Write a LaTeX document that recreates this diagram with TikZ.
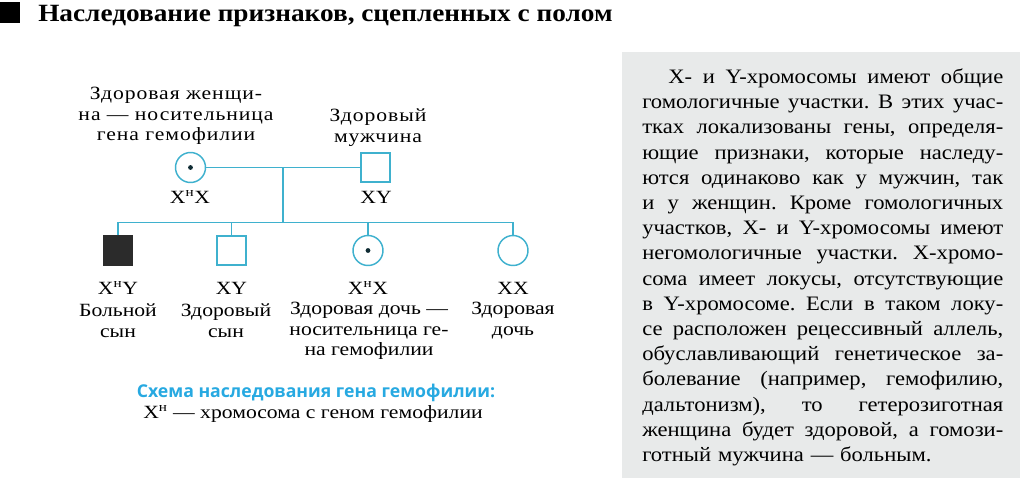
\documentclass[tikz,border=0pt]{standalone}
\usepackage{fontspec}
\setmainfont{Liberation Serif}[FakeStretch=1.1]
\newfontfamily\pedfont{Liberation Serif}[FakeStretch=1.16]
\newfontfamily\pedwide{Liberation Serif}[FakeStretch=1.16,LetterSpace=5]
\newfontfamily\capfont{Open Sans}
\usepackage{xcolor}
\definecolor{PedBlue}{HTML}{3FB1CE}
\definecolor{CapBlue}{HTML}{27A9E1}
\definecolor{BoxGray}{HTML}{E8EAEA}
\definecolor{Sick}{HTML}{2B2B2B}
\usepackage{tikz}
\usetikzlibrary{positioning,calc}
\newcommand\fullline[1]{\hbox to 270.75pt{\frenchspacing\spaceskip=\fontdimen2\font plus 1fil minus 0.1em\relax #1}}

\begin{document}
\begin{tikzpicture}[x=0.75pt,y=-0.75pt,
 male/.style={rectangle,draw=PedBlue,line width=1.1pt,minimum size=21.5pt,inner sep=0pt},
 female/.style={circle,draw=PedBlue,line width=1.1pt,minimum size=22.5pt,inner sep=0pt},
 sick/.style={male,draw=Sick,fill=Sick},
 carrier/.style={female,path picture={\fill[black!75!PedBlue] (path picture bounding box.center) circle (1.8pt);}},
 ped/.style={PedBlue,line width=1.1pt},
 lbl/.style={align=center,font=\pedfont\fontsize{14}{15.4}\selectfont,inner sep=0pt},
 toplbl/.style={lbl,font=\pedwide\fontsize{14}{15.4}\selectfont}]
\useasboundingbox (0,0) rectangle (1024,480);
\fill (0,2) rectangle (20,23);
\node[anchor=base west,inner sep=0pt,font=\bfseries\fontsize{18.6}{20}\selectfont] (title) at (38,21) {Наследование признаков, сцепленных с полом};
\fill[BoxGray] (622,52) rectangle (1020,478);
\node[anchor=north west,inner sep=0pt,text width=270.75pt,font=\fontsize{15.4}{18.9}\selectfont] (info) at (642,68.5) {%
\fullline{\hspace*{19.5pt}X- и Y-хромосомы имеют общие}
\fullline{гомологичные участки. В этих учас-}
\fullline{тках локализованы гены, определя-}
\fullline{ющие признаки, которые наследу-}
\fullline{ются одинаково как у мужчин, так}
\fullline{и у женщин. Кроме гомологичных}
\fullline{участков, X- и Y-хромосомы имеют}
\fullline{негомологичные участки. X-хромо-}
\fullline{сома имеет локусы, отсутствующие}
\fullline{в Y-хромосоме. Если в таком локу-}
\fullline{се расположен рецессивный аллель,}
\fullline{обуславливающий генетическое за-}
\fullline{болевание (например, гемофилию,}
\fullline{дальтонизм), то гетерозиготная}
\fullline{женщина будет здоровой, а гомози-}
\hbox{готный мужчина — больным.}};
\node[carrier] (mom) at (190.5,167.5) {};
\node[male] (dad) at (375.5,167.5) {};
\draw[ped] (mom) -- (dad);
\coordinate (mate) at (283,167.5);
\coordinate (sib) at (283,222.5);
\draw[ped] (mate) -- (sib);
\node[toplbl] (momtxt) at (176,116) {Здоровая женщи-\\на — носительница\\гена гемофилии};
\node[toplbl] (dadtxt) at (378,127.5) {Здоровый\\мужчина};
\node[lbl] (momgen) at (190,197) {X\textsuperscript{н}X};
\node[lbl] (dadgen) at (376,197) {XY};
\foreach \n/\x/\s/\g/\tx/\ty/\d in {
  son1/118/sick/X\textsuperscript{н}Y/118/320.5/{Больной\\сын},
  son2/231.5/male/XY/226/320.5/{Здоровый\\сын},
  dau1/368/carrier/X\textsuperscript{н}X/369/331/{Здоровая дочь —\\носительница ге-\\на гемофилии},
  dau2/513/female/XX/513/320.5/{Здоровая\\дочь}} {
  \node[\s] (\n) at (\x,250.5) {};
  \draw[ped] (\n.north) |- (sib);
  \node[lbl] (\n gen) at (\x,288) {\g};
  \node[lbl] (\n txt) at (\tx,\ty) {\d};
}
\node[inner sep=0pt,text=CapBlue,font=\capfont\bfseries\fontsize{13.25}{14}\selectfont] (cap) at (316,393) {Схема наследования гена гемофилии:};
\node[lbl] (key) at (313,414) {X\textsuperscript{н} — хромосома с геном гемофилии};
\end{tikzpicture}
\end{document}
